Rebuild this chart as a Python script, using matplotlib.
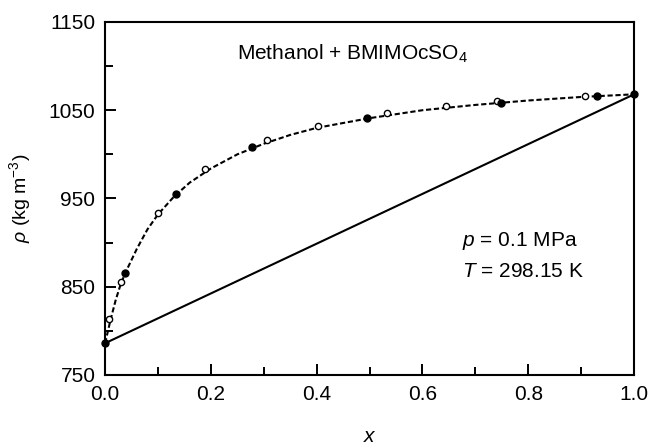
import numpy as np
import matplotlib
matplotlib.use("Agg")
import matplotlib.pyplot as plt

plt.rcParams['font.family'] = ['Liberation Sans', 'DejaVu Sans']
plt.rcParams['mathtext.fontset'] = 'custom'
plt.rcParams['mathtext.rm'] = 'Liberation Sans'
plt.rcParams['mathtext.it'] = 'Liberation Sans:italic'

x_filled = [0.0, 0.038, 0.134, 0.278, 0.495, 0.749, 0.930, 1.0]
rho_filled = [786, 865, 955, 1008, 1041, 1058, 1066, 1068]
x_open = [0.008, 0.030, 0.100, 0.189, 0.306, 0.403, 0.533, 0.645, 0.741, 0.907]
rho_open = [813, 855, 934, 983, 1016, 1032, 1047, 1055, 1060, 1066]

# fitted curve (dashed)
curve_x = [0.0, 0.01, 0.02, 0.03, 0.04, 0.06, 0.08, 0.10, 0.13, 0.16, 0.20,
           0.25, 0.30, 0.35, 0.40, 0.50, 0.60, 0.70, 0.80, 0.90, 1.0]
curve_rho = [786, 812, 835, 854, 868, 893, 915, 932, 952, 968, 984,
             1000, 1012, 1022, 1030, 1041, 1050, 1056, 1061, 1065, 1068]

# ideal mixing line
ideal_x = [0.0, 1.0]
ideal_rho = [786, 1068]

xticks = [0.0, 0.2, 0.4, 0.6, 0.8, 1.0]
xminor = [0.1, 0.3, 0.5, 0.7, 0.9]
yticks = [750, 850, 950, 1050, 1150]
yminor = [800, 900, 1000, 1100]

fig = plt.figure(figsize=(6.49, 4.48), dpi=100)
ax = fig.add_axes([0.162, 0.163, 0.815, 0.788])

ax.plot(ideal_x, ideal_rho, color='black', lw=1.5, solid_capstyle='butt')
ax.plot(curve_x, curve_rho, color='black', lw=1.5, ls=(0, (2.5, 1.3)))
ax.plot(x_open, rho_open, 'o', ms=4.5, mfc='white', mec='black', mew=1.0)
ax.plot(x_filled, rho_filled, 'o', ms=5, mfc='black', mec='black', clip_on=False)

ax.set_xlim(0, 1.0)
ax.set_ylim(750, 1150)
ax.set_xticks(xticks)
ax.set_xticklabels(['%.1f' % v for v in xticks])
ax.set_xticks(xminor, minor=True)
ax.set_yticks(yticks)
ax.set_yticks(yminor, minor=True)

ax.tick_params(which='both', direction='in', top=False, right=False,
               labelsize=15, width=1.4)
ax.tick_params(which='major', length=8, pad=7)
ax.tick_params(which='minor', length=5.5)
for s in ax.spines.values():
    s.set_linewidth(1.5)

ax.set_xlabel('$x$', fontsize=15, labelpad=17)
ax.set_ylabel(r'$\rho$ (kg m$^{-3}$)', fontsize=14, labelpad=11)

ax.text(0.467, 1107, 'Methanol + BMIMOcSO$_4$', fontsize=15, ha='center')
ax.text(0.675, 896, '$p$ = 0.1 MPa', fontsize=15, ha='left')
ax.text(0.675, 861, '$T$ = 298.15 K', fontsize=15, ha='left')

fig.savefig('out.png', dpi=100)
